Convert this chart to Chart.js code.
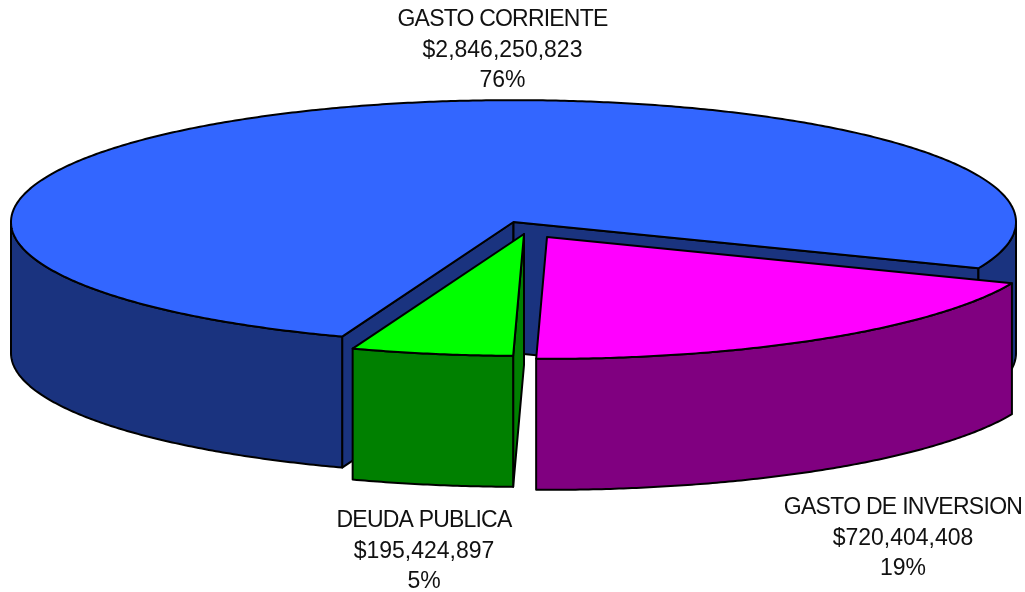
<!DOCTYPE html>
<html><head><meta charset="utf-8">
<style>html,body{margin:0;padding:0;background:#fff;overflow:hidden}#w{width:1025px;height:592px;position:relative}</style>
<script src="https://cdn.jsdelivr.net/npm/chart.js@4/dist/chart.umd.min.js"></script>
</head><body><div id="w"><canvas id="c" width="1025" height="592"></canvas></div>
<script>
// Data
const categories = ['GASTO DE INVERSION', 'DEUDA PUBLICA', 'GASTO CORRIENTE'];
const values = [720404408, 195424897, 2846250823];
const valueLabels = ['$720,404,408', '$195,424,897', '$2,846,250,823'];
const percentLabels = ['19%', '5%', '76%'];
const topColors = ['#FF00FF', '#00FF00', '#3366FF'];
const sideColors = ['#800080', '#008000', '#1A337F'];

// Projection / layout styling
const K = 0.2425, DEPTH = 131, RADIUS = 502.5, CX = 513.5, CY = 222;
const explode = [[33.5, 15], [10.5, 12], [0, 0]];      // screen px offset of each slice
const labelAt = [[903, 514], [424, 527], [502.5, 26]]; // label centre x, first baseline
const nameSpacing = ['-0.72px', '-0.8px', '-0.8px'];
const LINE = 30.6;
const D = Math.PI / 180;

function project(chart, x, y) { return [x, CY + K * (y - chart.chartArea.height / 2)]; }
function rimPts(chart, a, from, to) {
  const n = Math.max(2, Math.ceil(Math.abs(to - from) / (0.5 * D)));
  const p = [];
  for (let i = 0; i <= n; i++) {
    const t = from + (to - from) * i / n;
    p.push(project(chart, a.x + a.outerRadius * Math.cos(t), a.y + a.outerRadius * Math.sin(t)));
  }
  return p;
}
function poly(ctx, pts, fill) {
  ctx.beginPath();
  pts.forEach((p, i) => i ? ctx.lineTo(p[0], p[1]) : ctx.moveTo(p[0], p[1]));
  ctx.closePath();
  if (fill) { ctx.fillStyle = fill; ctx.fill(); }
  ctx.stroke();
}
function wall(ctx, top, fill) {
  const low = top.slice().reverse().map(p => [p[0], p[1] + DEPTH]);
  poly(ctx, top.concat(low), fill);
}
const pie3d = {
  id: 'pie3d',
  afterDatasetsUpdate(chart) {
    const h = chart.chartArea.height;
    chart.getDatasetMeta(0).data.forEach((a, i) => {
      a.x = CX + explode[i][0];
      a.y = h / 2 + explode[i][1] / K;
    });
  },
  beforeDatasetsDraw(chart) {
    const ctx = chart.ctx, arcs = chart.getDatasetMeta(0).data;
    ctx.save();
    ctx.strokeStyle = '#000'; ctx.lineWidth = 2; ctx.lineJoin = 'round';
    [2, 1, 0].forEach(i => {
      const a = arcs[i], s = a.startAngle, e = a.endAngle, col = sideColors[i];
      const apex = project(chart, a.x, a.y);
      if (Math.cos(s) < 0) wall(ctx, [apex, rimPts(chart, a, s, s)[0]], col);
      if (Math.cos(e) > 0) wall(ctx, [apex, rimPts(chart, a, e, e)[0]], col);
      // visible outer rim: parts of the slice on the near half of the ellipse
      [[0, Math.PI], [2 * Math.PI, 3 * Math.PI]].forEach(r => {
        const f = Math.max(s, r[0]), t = Math.min(e, r[1]);
        if (t > f) wall(ctx, rimPts(chart, a, f, t), col);
      });
    });
    ctx.restore();
    // squash the library's pie slices into the tilted plane
    ctx.save();
    ctx.transform(1, 0, 0, K, 0, CY - K * chart.chartArea.height / 2);
  },
  afterDatasetsDraw(chart) {
    const ctx = chart.ctx, arcs = chart.getDatasetMeta(0).data;
    ctx.restore();
    ctx.save();
    ctx.strokeStyle = '#000'; ctx.lineWidth = 2; ctx.lineJoin = 'round';
    arcs.forEach(a => {
      poly(ctx, [project(chart, a.x, a.y)].concat(rimPts(chart, a, a.startAngle, a.endAngle)));
    });
    ctx.restore();
  },
  afterDraw(chart) {
    const ctx = chart.ctx;
    ctx.save();
    ctx.fillStyle = '#111';
    ctx.textAlign = 'center';
    ctx.textBaseline = 'alphabetic';
    ctx.font = '23px "Liberation Sans", Arial, sans-serif';
    categories.forEach((c, i) => {
      const x = labelAt[i][0], y = labelAt[i][1];
      ctx.letterSpacing = nameSpacing[i];
      ctx.fillText(c, x, y);
      ctx.letterSpacing = '0px';
      ctx.fillText(valueLabels[i], x, y + LINE);
      ctx.fillText(percentLabels[i], x, y + 2 * LINE);
    });
    ctx.restore();
  }
};
new Chart(document.getElementById('c'), {
  type: 'pie',
  data: { labels: categories, datasets: [{
    data: values, backgroundColor: topColors, borderWidth: 0, clip: false
  }]},
  options: {
    responsive: false, animation: false, rotation: 112.3, radius: RADIUS,
    layout: { padding: 0 },
    plugins: { legend: { display: false }, tooltip: { enabled: false } }
  },
  plugins: [pie3d]
});
</script></body></html>
